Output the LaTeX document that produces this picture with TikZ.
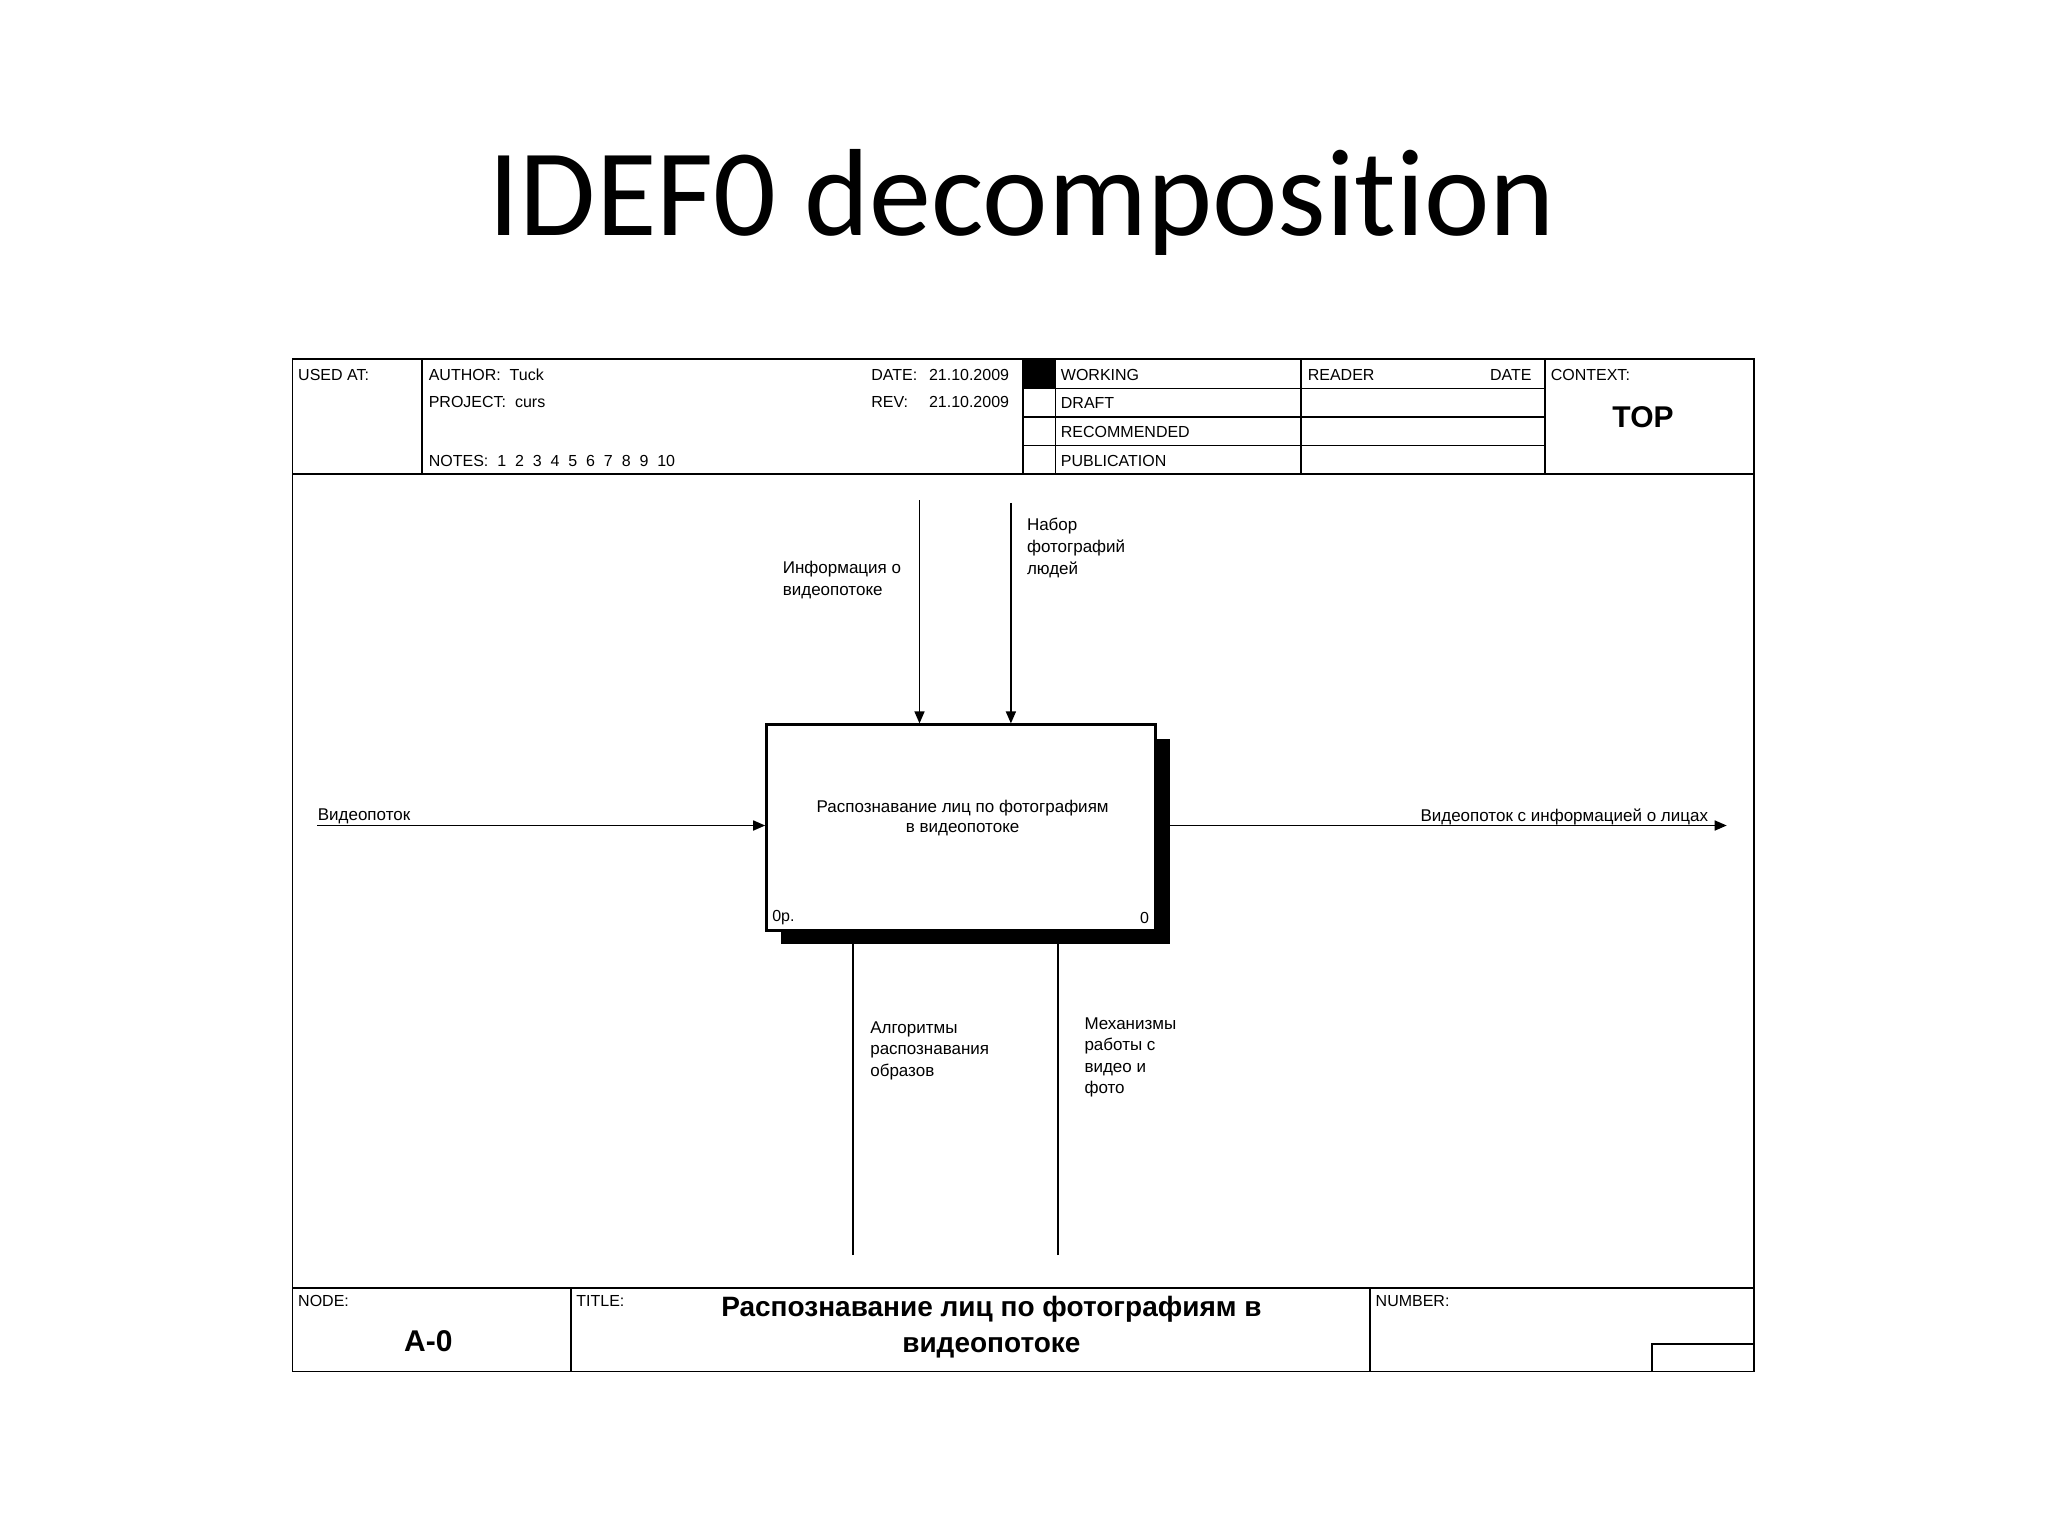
\documentclass[tikz,border=0pt]{standalone}
\usepackage{fontspec}
\setmainfont{Liberation Sans}
\newfontfamily\titlefont[Ligatures={NoCommon,NoRare,NoDiscretionary}]{Carlito}
\usetikzlibrary{arrows.meta,shadows,calc}
\begin{document}
\begin{tikzpicture}[x=0.5pt,y=-0.5pt,
  frameline/.style={line width=0.8pt},
  lbl/.style={inner sep=0pt, font=\fontsize{8}{10}\selectfont},
  dlbl/.style={inner sep=0pt, align=left, font=\fontsize{8.5}{10.8}\selectfont},
  arr/.style={line width=0.8pt,-{Triangle[length=6pt,width=5pt]}},
  func/.style={draw, line width=1.5pt, fill=white, minimum width=194.6pt, minimum height=102.6pt, inner sep=0pt,
    drop shadow={shadow xshift=7pt,shadow yshift=-7pt,fill=black,opacity=1}}
]
\useasboundingbox[fill=white] (0,0) rectangle (2048,1536);

% slide title
\node[inner sep=0pt, anchor=base, font=\titlefont\fontsize{62}{70}\selectfont] (slidetitle) at (1022,235) {IDEF0 decomposi\kern0pt tion};

% frame
\draw[frameline] (292.6,359.2) rectangle (1754.1,1371.4);
\draw[frameline] (292.6,474.1) -- (1754.1,474.1);
\draw[frameline] (421.9,359.2) -- (421.9,474.1);
\draw[frameline] (1022.7,359.2) -- (1022.7,474.1);
\draw[frameline] (1055.3,359.2) -- (1055.3,474.1);
\draw[frameline] (1300.9,359.2) -- (1300.9,474.1);
\draw[frameline] (1545.1,359.2) -- (1545.1,474.1);
\draw[frameline] (1022.7,388.6) -- (1545.1,388.6);
\draw[frameline] (1022.7,416.7) -- (1545.1,416.7);
\draw[frameline] (1022.7,445.4) -- (1545.1,445.4);
\fill (1022.7,359.2) rectangle (1055.3,388.6);
\draw[frameline] (292.6,1287.8) -- (1754.1,1287.8);
\draw[frameline] (570.8,1287.8) -- (570.8,1371.4);
\draw[frameline] (1370.1,1287.8) -- (1370.1,1371.4);
\draw[frameline] (1652.2,1371.4) |- (1754.1,1344);

% header texts
\node[lbl, anchor=west] (usedat) at (297.8,374.5) {USED AT:};
\node[lbl, anchor=west] (author) at (428.4,374.5) {AUTHOR:\ \ Tuck};
\node[lbl, anchor=west] (project) at (428.4,402) {PROJECT:\ \ curs};
\node[lbl, anchor=west] (notes) at (428.4,460.7) {NOTES:\ \ 1\ \ 2\ \ 3\ \ 4\ \ 5\ \ 6\ \ 7\ \ 8\ \ 9\ \ 10};
\node[lbl, anchor=west] (datel) at (871,374.5) {DATE:};
\node[lbl, anchor=west] (datev) at (928.6,374.5) {21.10.2009};
\node[lbl, anchor=west] (revl) at (871,402) {REV:};
\node[lbl, anchor=west] (revv) at (928.6,402) {21.10.2009};
\node[lbl, anchor=west] (working) at (1060.5,374.5) {WORKING};
\node[lbl, anchor=west] (draft) at (1060.5,403.3) {DRAFT};
\node[lbl, anchor=west] (recom) at (1060.5,432) {RECOMMENDED};
\node[lbl, anchor=west] (publ) at (1060.5,460.7) {PUBLICATION};
\node[lbl, anchor=west] (reader) at (1307.4,374.5) {READER};
\node[lbl, anchor=east] (rdate) at (1532,374.5) {DATE};
\node[lbl, anchor=west] (context) at (1550.4,374.5) {CONTEXT:};
\node[inner sep=0pt, font=\bfseries\fontsize{15}{18}\selectfont] (top) at (1643,416.7) {TOP};

% footer texts
\node[lbl, anchor=west] (nodel) at (297.8,1300.6) {NODE:};
\node[inner sep=0pt, font=\bfseries\fontsize{15}{18}\selectfont] (nodev) at (428.4,1341.4) {A-0};
\node[lbl, anchor=west] (titlel) at (576,1300.6) {TITLE:};
\node[inner sep=0pt, align=center, font=\bfseries\fontsize{14}{18.3}\selectfont] (titlev) at (991.4,1327.2) {Распознавание лиц по фотографиям в\\видеопотоке};
\node[lbl, anchor=west] (numberl) at (1375.3,1300.6) {NUMBER:};

% function box
\node[func] (box) at (961.3,827.5) {};
\node[inner sep=0pt, align=center, font=\fontsize{8.5}{10.4}\selectfont] (boxtxt) at (962.6,818) {Распознавание лиц по фотографиям\\в видеопотоке};
\node[lbl, anchor=west] (opl) at (771.9,918) {0p.};
\node[lbl, anchor=east] (onum) at (1149.4,918) {0};

% connectors
\coordinate (inS) at (317.4,825.5);
\coordinate (outE) at (1726.7,825.5);
\coordinate (c1) at (919.5,500.2);
\coordinate (c2) at (1010.9,502.9);
\coordinate (m1) at (852.9,1255.2);
\coordinate (m2) at (1058,1255.2);
\draw[arr] (inS) -- (inS -| box.west);
\draw[arr] (outE -| box.east) -- (outE);
\draw[arr] (c1) -- (c1 |- box.north);
\draw[arr] (c2) -- (c2 |- box.north);
\draw[arr] (m1) -- (m1 |- box.south);
\draw[arr] (m2) -- (m2 |- box.south);

% connector labels
\node[dlbl, anchor=west] (inlbl) at (317.4,816.5) {Видеопоток};
\node[dlbl, anchor=east] (outlbl) at (1708.4,816.5) {Видеопоток с информацией о лицах};
\node[dlbl, anchor=north west] (c1lbl) at (782.4,561) {Информация о\\видеопотоке};
\node[dlbl, anchor=north west] (c2lbl) at (1026.6,518) {Набор\\фотографий\\людей};
\node[dlbl, anchor=north west] (m1lbl) at (869.9,1021) {Алгоритмы\\распознавания\\образов};
\node[dlbl, anchor=north west] (m2lbl) at (1084.1,1017) {Механизмы\\работы с\\видео и\\фото};
\end{tikzpicture}
\end{document}
